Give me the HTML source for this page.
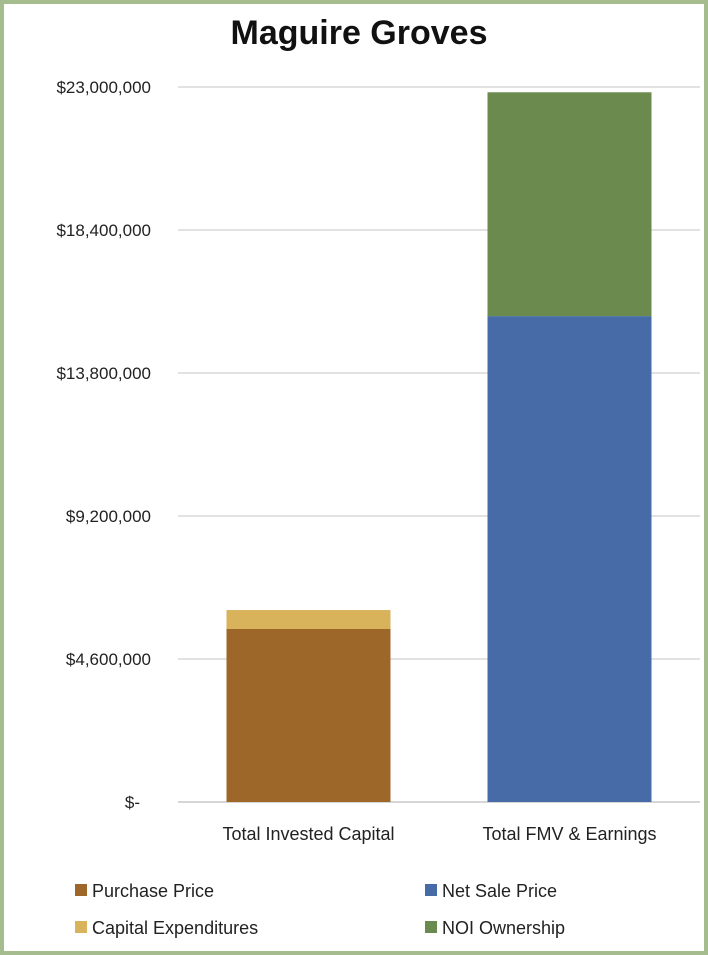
<!DOCTYPE html>
<html><head><meta charset="utf-8"><style>
html,body{margin:0;padding:0;background:#fff}
#wrap{position:relative;width:708px;height:955px;box-sizing:border-box;border:4px solid #a5bd8e;background:#fff;font-family:"Liberation Sans",sans-serif}
svg{position:absolute;left:-4px;top:-4px}
</style></head><body>
<div id="wrap">
<svg id="chart" width="708" height="955"></svg>
</div>
<script>
const categories = ["Total Invested Capital", "Total FMV & Earnings"];
const seriesNames = ["Purchase Price", "Capital Expenditures", "Net Sale Price", "NOI Ownership"];
const purchasePrice = [5565000, 0];
const capitalExpenditures = [610000, 0];
const netSalePrice = [0, 15630000];
const noiOwnership = [0, 7200000];
const tickValues = [0, 4600000, 9200000, 13800000, 18400000, 23000000];
const tickLabels = ["$-", "$4,600,000", "$9,200,000", "$13,800,000", "$18,400,000", "$23,000,000"];

const NS = "http://www.w3.org/2000/svg";
const svg = document.getElementById('chart');
const colors = ["#9e672a", "#d9b25c", "#466ba6", "#6a8a4e"];
const series = [purchasePrice, capitalExpenditures, netSalePrice, noiOwnership];
const y0 = 802, yTop = 87, vMax = 23000000;
const plotL = 178, plotR = 700;
function y(v){ return y0 - (v / vMax) * (y0 - yTop); }
const bandW = (plotR - plotL) / categories.length;
function xCenter(i){ return plotL + bandW * (i + 0.5); }
const barW = 164;
function mk(tag, attrs, text){
  const e = document.createElementNS(NS, tag);
  for (const k in attrs) e.setAttribute(k, attrs[k]);
  if (text !== undefined) e.textContent = text;
  svg.appendChild(e); return e;
}
let t = mk('text', {x: 359, y: 44, 'text-anchor': 'middle', 'font-size': 34, 'font-weight': 'bold', fill: '#111'}, "Maguire Groves");



tickValues.forEach((v, i) => {
  const g = mk('line', {x1: plotL, x2: plotR, y1: y(v), y2: y(v), stroke: i === 0 ? '#c8c8c8' : '#d9d9d9', 'stroke-width': 1.5});
  
  
  const lx = v === 0 ? 140 : 151;
  const l = mk('text', {x: lx, y: y(v) + 6, 'text-anchor': 'end', 'font-size': 17, fill: '#222'}, tickLabels[i]);
  
  
});

categories.forEach((c, i) => {
  let base = 0;
  series.forEach((s, si) => {
    const v = s[i];
    if (v <= 0) return;
    const r = mk('rect', {x: xCenter(i) - barW / 2, y: y(base + v), width: barW, height: y(base) - y(base + v), fill: colors[si]});
    
    
    base += v;
  });
  const l = mk('text', {x: xCenter(i), y: 840, 'text-anchor': 'middle', 'font-size': 18, fill: '#222'}, c);
  
  
});

const legPos = [[75, 896], [75, 933], [425, 896], [425, 933]];
seriesNames.forEach((n, i) => {
  const [lx, ly] = legPos[i];
  const r = mk('rect', {x: lx, y: ly - 12, width: 12, height: 12, fill: colors[i]});
  
  
  const tx = mk('text', {x: lx + 17, y: ly + 1, 'font-size': 18, fill: '#222'}, n);
  
  
});
</script>
</body></html>
